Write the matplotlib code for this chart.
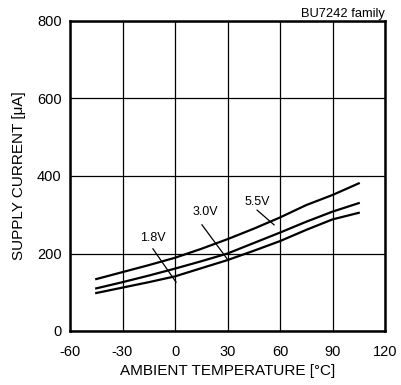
import matplotlib
matplotlib.use("Agg")
import matplotlib.pyplot as plt

plt.rcParams['font.family'] = ['Liberation Sans', 'DejaVu Sans']
plt.rcParams['axes.unicode_minus'] = False

# Supply current vs ambient temperature
temp = [-45, -30, -15, 0, 15, 30, 45, 60, 75, 90, 105]
i_55 = [134, 152, 170, 189, 212, 237, 264, 293, 325, 351, 381]
i_30 = [110, 126, 143, 161, 180, 200, 227, 254, 282, 308, 330]
i_18 = [98, 112, 126, 141, 162, 183, 207, 232, 261, 288, 305]

fig = plt.figure(figsize=(4.01, 3.85), dpi=100)
ax = fig.add_axes([70/401, 1 - 331/385, 315/401, 310/385])

for y in [i_55, i_30, i_18]:
    ax.plot(temp, y, color='black', lw=1.6)

ax.set_xlim(-60, 120)
ax.set_ylim(0, 800)
ax.set_xticks([-60, -30, 0, 30, 60, 90, 120])
ax.set_yticks([0, 200, 400, 600, 800])
ax.grid(True, color='black', lw=0.9)
ax.tick_params(length=0, labelsize=10.5)
ax.tick_params(axis='x', pad=10)
ax.tick_params(axis='y', pad=6)
for s in ax.spines.values():
    s.set_linewidth(1.8)

# voltage labels with leader lines
ax.text(-12.6, 240, '1.8V', fontsize=9, ha='center', va='center')
ax.plot([-12.6, 0.6], [212, 126], color='black', lw=0.9)
ax.text(17.1, 307, '3.0V', fontsize=9, ha='center', va='center')
ax.plot([15.4, 30.3], [274, 183], color='black', lw=0.9)
ax.text(46.9, 333, '5.5V', fontsize=9, ha='center', va='center')
ax.plot([46.9, 56.6], [312, 274], color='black', lw=0.9)

ax.set_xlabel('AMBIENT TEMPERATURE [\u00b0C]', fontsize=11, labelpad=4)
ax.set_ylabel('SUPPLY CURRENT [\u03bcA]', fontsize=11, labelpad=8)
ax.set_title('BU7242 family', fontsize=9.3, loc='right', pad=3)

fig.savefig('out.png', dpi=100)
